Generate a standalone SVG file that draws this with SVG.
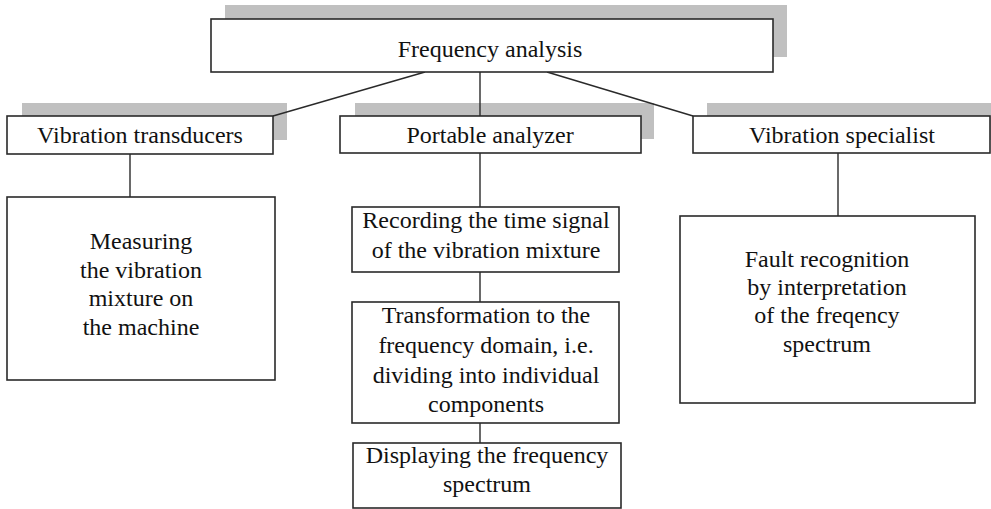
<svg xmlns="http://www.w3.org/2000/svg" width="991" height="509" viewBox="0 0 991 509">
<style>
.shadow{fill:#c0c0c0;stroke:none}
.box{fill:#fff;stroke:#2a2a2a;stroke-width:1.6}
.conn{stroke:#2a2a2a;stroke-width:1.4;fill:none}
text{font-family:"Liberation Serif","Times New Roman",serif;font-size:24px;fill:#111;text-anchor:middle}
</style>
<rect width="991" height="509" fill="#fff"/>
<g id="shadows">
<rect class="shadow" x="225" y="5" width="562" height="52"/>
<rect class="shadow" x="22" y="103" width="265" height="37"/>
<rect class="shadow" x="355" y="103" width="299" height="36"/>
<rect class="shadow" x="707" y="103" width="284" height="37"/>
</g>
<g id="connectors">
<line class="conn" x1="425" y1="72" x2="273" y2="116"/>
<line class="conn" x1="480" y1="72" x2="480" y2="116"/>
<line class="conn" x1="547" y1="72" x2="693" y2="116"/>
<line class="conn" x1="130" y1="154" x2="130" y2="197"/>
<line class="conn" x1="480" y1="153" x2="480" y2="207"/>
<line class="conn" x1="480" y1="272" x2="480" y2="302"/>
<line class="conn" x1="480" y1="423" x2="480" y2="443"/>
<line class="conn" x1="838" y1="153" x2="838" y2="216"/>
</g>
<g id="frequency-analysis">
<rect class="box" x="211" y="19" width="562" height="53"/>
<text x="490" y="57">Frequency analysis</text>
</g>
<g id="vibration-transducers">
<rect class="box" x="7" y="116" width="266" height="38"/>
<text x="140" y="143">Vibration transducers</text>
</g>
<g id="portable-analyzer">
<rect class="box" x="340" y="116" width="301" height="37"/>
<text x="490" y="143">Portable analyzer</text>
</g>
<g id="vibration-specialist">
<rect class="box" x="693" y="116" width="297" height="37"/>
<text x="842" y="143">Vibration specialist</text>
</g>
<g id="measuring">
<rect class="box" x="7" y="197" width="268" height="183"/>
<text x="141" y="249">Measuring</text>
<text x="141" y="277.5">the vibration</text>
<text x="141" y="306">mixture on</text>
<text x="141" y="334.5">the machine</text>
</g>
<g id="recording">
<rect class="box" x="352" y="207" width="267" height="65"/>
<text x="486" y="228">Recording the time signal</text>
<text x="486" y="258">of the vibration mixture</text>
</g>
<g id="transformation">
<rect class="box" x="352" y="302" width="267" height="121"/>
<text x="486" y="323">Transformation to the</text>
<text x="486" y="353">frequency domain, i.e.</text>
<text x="486" y="383">dividing into individual</text>
<text x="486" y="412">components</text>
</g>
<g id="displaying">
<rect class="box" x="353" y="443" width="268" height="65"/>
<text x="487" y="463">Displaying the frequency</text>
<text x="487" y="492">spectrum</text>
</g>
<g id="fault-recognition">
<rect class="box" x="680" y="216" width="295" height="187"/>
<text x="827" y="267">Fault recognition</text>
<text x="827" y="295">by interpretation</text>
<text x="827" y="323">of the freqency</text>
<text x="827" y="352">spectrum</text>
</g>
</svg>
